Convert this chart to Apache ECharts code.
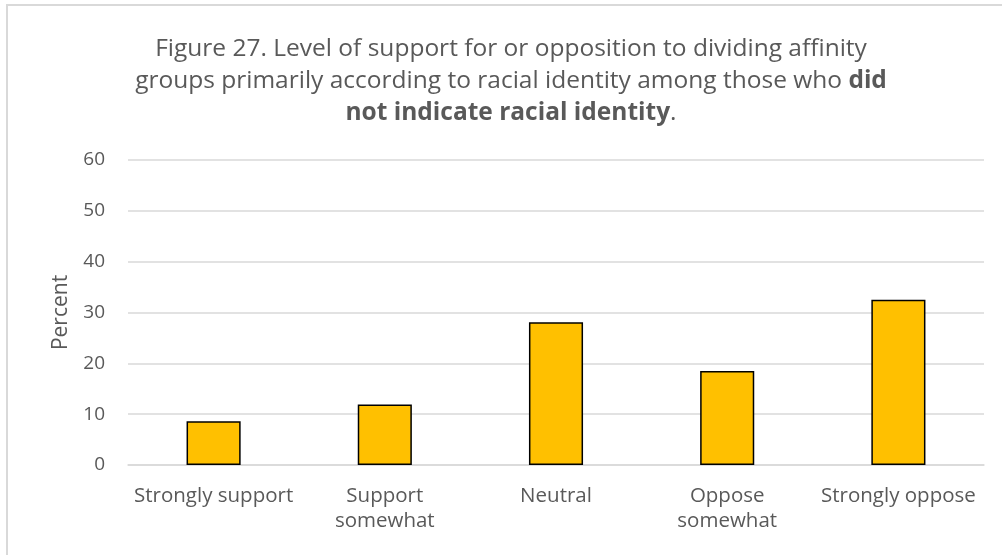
<!DOCTYPE html>
<html>
<head>
<meta charset="utf-8">
<script src="https://cdn.jsdelivr.net/npm/echarts@6/dist/echarts.min.js"></script>
<style>
  html, body { margin: 0; padding: 0; background: #ffffff; }
  #chart { width: 1002px; height: 555px; }
</style>
</head>
<body>
<div id="chart"></div>
<script>
// Response categories (x axis)
const categories = ['Strongly support', 'Support\nsomewhat', 'Neutral', 'Oppose\nsomewhat', 'Strongly oppose'];
// Percent of respondents in each category
const percents = [8.6, 11.9, 28.1, 18.5, 32.5];
// Y axis range
const yMin = 0, yMax = 60, yStep = 10;

const FONT = '"Open Sans", "Noto Sans", sans-serif';
const TEXT = '#595959';

const chart = echarts.init(document.getElementById('chart'), null, { renderer: 'canvas' });

chart.setOption({
  animation: false,
  backgroundColor: '#ffffff',
  textStyle: { fontFamily: FONT },
  title: {
    left: 506,
    top: 28,
    textAlign: 'center',
    text: '{n|Figure 27. Level of support for or opposition to dividing affinity}\n' +
          '{n|groups primarily according to racial identity among those who }{b|did}\n' +
          '{b|not indicate racial identity}{n|.}',
    textStyle: {
      fontWeight: 'normal',
      rich: {
        n: { fontFamily: FONT, fontSize: 24.5, color: TEXT, fontWeight: 'normal', lineHeight: 32 },
        b: { fontFamily: FONT, fontSize: 24.5, color: TEXT, fontWeight: 'bold', lineHeight: 32 }
      }
    }
  },
  graphic: [{
    type: 'rect',
    shape: { x: 7, y: 5, width: 1100, height: 700 },
    style: { fill: 'none', stroke: '#d9d9d9', lineWidth: 2 },
    silent: true
  }],
  grid: { left: 128, right: 18, top: 160, bottom: 90, containLabel: false },
  xAxis: {
    type: 'category',
    data: categories,
    axisLine: { show: true, lineStyle: { color: '#d9d9d9', width: 1.5 } },
    axisTick: { show: false },
    axisLabel: {
      color: TEXT, fontFamily: FONT, fontSize: 20.5, lineHeight: 25,
      margin: 19, interval: 0
    }
  },
  yAxis: {
    type: 'value',
    min: yMin, max: yMax, interval: yStep,
    name: 'Percent',
    nameLocation: 'middle',
    nameGap: 56,
    nameTextStyle: { color: TEXT, fontFamily: FONT, fontSize: 21 },
    axisLine: { show: false },
    axisTick: { show: false },
    axisLabel: { color: TEXT, fontFamily: FONT, fontSize: 19, margin: 23 },
    splitLine: { lineStyle: { color: '#d9d9d9', width: 1.5 } }
  },
  series: [{
    type: 'bar',
    data: percents,
    barWidth: '31.6%',
    itemStyle: { color: '#FFC000', borderColor: '#000000', borderWidth: 1.5 }
  }]
});
</script>
</body>
</html>
